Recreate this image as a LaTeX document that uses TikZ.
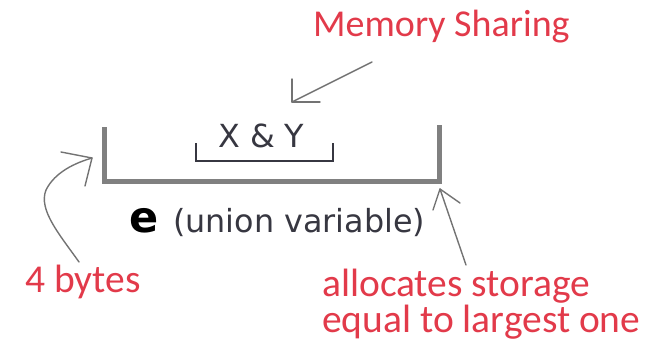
\documentclass[tikz,border=0pt]{standalone}
\usepackage{fontspec}
\newfontfamily\calib{Carlito}
\newfontfamily\dvs{DejaVu Sans}
\definecolor{redtxt}{RGB}{226,58,74}
\definecolor{bargray}{RGB}{128,128,128}
\definecolor{arrgray}{RGB}{115,115,115}
\definecolor{darktxt}{RGB}{55,55,65}
\tikzset{
  redlabel/.style={inner sep=0pt, anchor=base west, text=redtxt, font=\calib\fontsize{39.5}{36}\selectfont},
  graylabel/.style={inner sep=0pt, anchor=base west, text=darktxt, font=\dvs\fontsize{31.8}{36}\selectfont},
  bigbar/.style={draw=bargray, line width=5pt, line join=miter},
  smallbar/.style={draw=darktxt, line width=1.8pt},
  hand/.style={draw=arrgray, line width=1.4pt, line cap=round, line join=round}
}
\begin{document}
\begin{tikzpicture}[x=1pt,y=-1pt]
\useasboundingbox (0,0) rectangle (650,348);
% labels
\node[redlabel, font=\calib\fontsize{38}{36}\selectfont] (ms) at (313,36) {Memory Sharing};
\node[redlabel] (fb) at (25,292) {4 bytes};
\node[redlabel] (al) at (322,296) {allocates storage};
\node[redlabel] (eq) at (322,332) {equal to largest one};
\node[graylabel] (xy) at (218,147) {X \& Y};
\node[inner sep=0pt, anchor=base west, font=\dvs\bfseries\fontsize{43}{44}\selectfont] (e) at (129,232) {e};
\node[graylabel] (uv) at (173,232) {(union variable)};
% main bracket
\coordinate (bl) at (104,127);
\coordinate (bc1) at (104,181);
\coordinate (bc2) at (439.5,181);
\coordinate (br) at (439.5,125);
\draw[bigbar] (bl) -- (bc1) -- (bc2) -- (br);
% small bracket
\coordinate (sl) at (196,143);
\coordinate (sr) at (333,143);
\draw[smallbar] (sl) -- (196,161) -- (333,161) -- (sr);
% memory sharing arrow
\coordinate (mtail) at (372,62);
\coordinate (mtip) at (292,102);
\draw[hand] (mtail) -- (mtip);
\draw[hand] (292,79) -- (mtip) -- (320,102);
% 4 bytes arrow
\coordinate (ltip) at (92,158);
\coordinate (ltail) at (79,262);
\draw[hand] (ltail) .. controls (60,235) and (38,210) .. (46,190)
  .. controls (55,172) and (75,163) .. (ltip);
\draw[hand] (61,152) -- (ltip) -- (85,186);
% allocates arrow
\coordinate (rtip) at (440,189);
\coordinate (rtail) at (466,265);
\draw[hand] (rtail) -- (rtip);
\draw[hand] (433,210) -- (rtip) -- (460,203);
\end{tikzpicture}
\end{document}
